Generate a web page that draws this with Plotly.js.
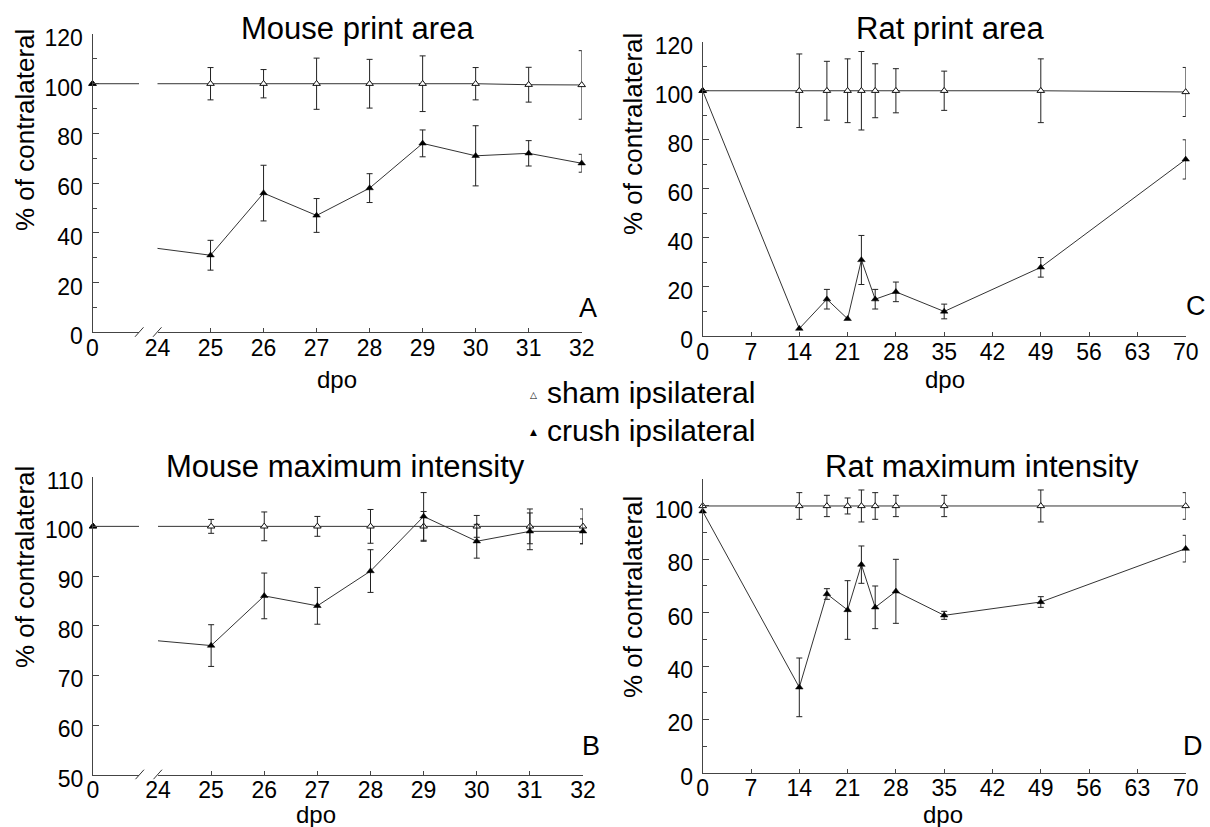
<!DOCTYPE html>
<html><head><meta charset="utf-8">
<script src="https://cdn.plot.ly/plotly-3.0.1.min.js"></script>
<style>html,body{margin:0;padding:0;background:#fff}#chart{width:1210px;height:827px}</style>
</head><body><div id="chart"></div>
<script>
// ---------------- data ----------------
const mouseDays = [0, 25, 26, 27, 28, 29, 30, 31, 32];
const mouseAreaSham = [100, 100, 100, 100, 100, 100, 100, 99.6, 99.5];
const mouseAreaShamErr = [null, 6.5, 5.7, 10.3, 9.8, 11.2, 6.5, 7, 13.8];
const mouseAreaCrush = [100, 31, 56, 47, 58, 76, 71, 72, 68];
const mouseAreaCrushErr = [null, 6, 11.2, 6.8, 5.8, 5.4, 12.1, 5.1, 3.6];

const mouseIntSham = [100, 100, 100, 100, 100, 100, 100, 100, 100];
const mouseIntShamErr = [null, 1.4, 2.9, 2, 3.4, 3, 2.2, 3.5, 3.5];
const mouseIntCrush = [100, 76, 86, 84, 91, 102, 97, 99, 99];
const mouseIntCrushErr = [null, 4.2, 4.6, 3.7, 4.3, 4.8, 3.4, 3.7, 2.5];

const ratDays = [0, 14, 18, 21, 23, 25, 28, 35, 49, 70];
const ratAreaSham = [100, 100, 100, 100, 100, 100, 100, 100, 100, 99.5];
const ratAreaShamErr = [null, 15, 12, 13, 16, 11, 9, 8, 13, 10];
const ratAreaCrush = [100, 3, 15, 7, 31, 15, 18, 10, 28, 72];
const ratAreaCrushErr = [null, null, 4, null, 10, 4, 4, 3, 4, 8];

const ratIntSham = [100, 100, 100, 100, 100, 100, 100, 100, 100, 100];
const ratIntShamErr = [null, 5, 4, 3, 6, 5, 4, 4, 6, 5];
const ratIntCrush = [98, 32, 67, 61, 78, 62, 68, 59, 64, 84];
const ratIntCrushErr = [null, 11, 2, 11, 7, 8, 12, 1.5, 2, 5];

const mouseTicks = [24, 25, 26, 27, 28, 29, 30, 31, 32];
const ratTicks = [0, 7, 14, 21, 28, 35, 42, 49, 56, 63, 70];

const panelTitles = ['Mouse print area', 'Mouse maximum intensity', 'Rat print area', 'Rat maximum intensity'];
const panelLetters = ['A', 'B', 'C', 'D'];
const yTitle = '% of contralateral';
const xTitle = 'dpo';
const seriesNames = ['sham ipsilateral', 'crush ipsilateral'];

// ---------------- helpers ----------------
const W = 1210, H = 827;
const fx = p => p / W;
const fy = p => 1 - p / H;
const FONT = 'Liberation Sans, Arial, Helvetica, sans-serif';
const LINE = '#333', ERR = '#222';
const MS = 6.6;

function errSpec(arr) {
  return {type: 'data', array: arr.map(v => v == null ? NaN : v), visible: true,
          thickness: 1, width: 3, color: ERR};
}
function shamTrace(x, y, err, xa, ya, opts = {}) {
  return Object.assign({
    type: 'scatter', x: x, y: y, xaxis: xa, yaxis: ya, mode: 'lines+markers',
    name: seriesNames[0], cliponaxis: false,
    line: {color: LINE, width: 1},
    marker: {symbol: 'triangle-up', size: MS, color: '#fff', line: {color: '#111', width: 1}},
    error_y: err ? errSpec(err) : undefined
  }, opts);
}
function crushTrace(x, y, err, xa, ya, opts = {}) {
  return Object.assign({
    type: 'scatter', x: x, y: y, xaxis: xa, yaxis: ya, mode: 'lines+markers',
    name: seriesNames[1], cliponaxis: false,
    line: {color: LINE, width: 1},
    marker: {symbol: 'triangle-up', size: MS, color: '#000', line: {color: '#000', width: 0.5}},
    error_y: err ? errSpec(err) : undefined
  }, opts);
}

const traces = [
  // Panel A (broken axis: x left piece, x2 right piece)
  shamTrace(mouseDays, mouseAreaSham, null, 'x', 'y'),
  crushTrace(mouseDays, mouseAreaCrush, null, 'x', 'y', {mode: 'markers'}),
  shamTrace(mouseDays, mouseAreaSham, mouseAreaShamErr, 'x2', 'y'),
  crushTrace(mouseDays, mouseAreaCrush, mouseAreaCrushErr, 'x2', 'y'),
  // Panel B
  shamTrace(mouseDays, mouseIntSham, null, 'x3', 'y2'),
  crushTrace(mouseDays, mouseIntCrush, null, 'x3', 'y2', {mode: 'markers'}),
  shamTrace(mouseDays, mouseIntSham, mouseIntShamErr, 'x4', 'y2'),
  crushTrace(mouseDays, mouseIntCrush, mouseIntCrushErr, 'x4', 'y2'),
  // Panel C
  shamTrace(ratDays, ratAreaSham, ratAreaShamErr, 'x5', 'y3'),
  crushTrace(ratDays, ratAreaCrush, ratAreaCrushErr, 'x5', 'y3'),
  // Panel D
  shamTrace(ratDays, ratIntSham, ratIntShamErr, 'x6', 'y4'),
  crushTrace(ratDays, ratIntCrush, ratIntCrushErr, 'x6', 'y4')
];

const tickFont = {family: FONT, size: 23, color: '#000'};
function xAxis(domain, range, anchor, tickvals, ticktext) {
  return {domain: domain, range: range, anchor: anchor, tickmode: 'array', tickvals: tickvals,
    ticktext: ticktext || tickvals.map(String),
    ticks: 'inside', ticklen: 4, tickwidth: 1, tickcolor: '#444',
    showline: true, linecolor: '#444', linewidth: 1, showgrid: false, zeroline: false,
    tickfont: tickFont, fixedrange: true, ticklabelstandoff: -5};
}
function yAxis(domain, range, anchor, dtick, minor) {
  const a = {domain: domain, range: range, anchor: anchor, tickmode: 'linear', tick0: 0, dtick: dtick,
    ticks: 'inside', ticklen: 6, tickwidth: 1, tickcolor: '#444',
    showline: true, linecolor: '#444', linewidth: 1, showgrid: false, zeroline: false,
    tickfont: tickFont, fixedrange: true, ticklabelstandoff: 4, ticklabelshift: 4};
  if (minor) a.minor = {dtick: minor, ticks: 'inside', ticklen: 4, tickwidth: 1, tickcolor: '#444', showgrid: false};
  return a;
}

const leftEnd = 139, pxPerDay = 53.0;
const layout = {
  width: W, height: H, margin: {l: 0, r: 0, t: 0, b: 0},
  paper_bgcolor: '#fff', plot_bgcolor: '#fff', showlegend: false, hovermode: false,
  font: {family: FONT, color: '#000'},
  xaxis:  xAxis([fx(92.5), fx(leftEnd)], [0, (leftEnd - 92.5) / pxPerDay], 'y', [0]),
  xaxis2: xAxis([fx(157.5), fx(581.7)], [24, 32], 'y', mouseTicks),
  yaxis:  yAxis([fy(332.3), fy(34)], [0, 120], 'x', 20, 10),
  xaxis3: xAxis([fx(93), fx(leftEnd)], [0, (leftEnd - 93) / pxPerDay], 'y2', [0]),
  xaxis4: xAxis([fx(158), fx(583)], [24, 32], 'y2', mouseTicks),
  yaxis2: yAxis([fy(774.7), fy(476.7)], [50, 110], 'x3', 10, null),
  xaxis5: xAxis([fx(702.7), fx(1185.7)], [0, 70], 'y3', ratTicks),
  yaxis3: yAxis([fy(336), fy(41.7)], [0, 120], 'x5', 20, 10),
  xaxis6: xAxis([fx(702.7), fx(1185.7)], [0, 70], 'y4', ratTicks),
  yaxis4: yAxis([fy(772.7), fy(479.3)], [0, 110], 'x6', 20, 10),
  annotations: [],
  shapes: []
};

function ann(text, px, py, size, extra = {}) {
  layout.annotations.push(Object.assign({
    text: text, xref: 'paper', yref: 'paper', x: fx(px), y: fy(py),
    xanchor: 'center', yanchor: 'middle', showarrow: false,
    font: {family: FONT, size: size, color: '#000'}
  }, extra));
}
// panel titles
ann(panelTitles[0], 357, 28, 31);
ann(panelTitles[1], 345, 466, 31);
ann(panelTitles[2], 950, 28, 31);
ann(panelTitles[3], 982, 466, 31);
// y-axis titles
ann(yTitle, 25, 130, 26, {textangle: -90});
ann(yTitle, 25, 567, 26, {textangle: -90});
ann(yTitle, 633, 134, 26, {textangle: -90});
ann(yTitle, 633, 597, 26, {textangle: -90});
// x-axis titles
ann(xTitle, 337, 379, 24);
ann(xTitle, 316, 814, 24);
ann(xTitle, 945, 379, 24);
ann(xTitle, 943, 814, 24);
// panel letters
ann(panelLetters[0], 588, 308, 27);
ann(panelLetters[1], 591, 746, 27);
ann(panelLetters[2], 1196, 306, 27);
ann(panelLetters[3], 1193, 746, 27);
// legend
ann(seriesNames[0], 545, 393, 30, {xanchor: 'left'});
ann(seriesNames[1], 545, 430, 30, {xanchor: 'left'});
ann('\u25B3', 533, 395, 9, {font: {family: 'DejaVu Sans', size: 9, color: '#000'}});
ann('\u25B2', 533, 432, 9, {font: {family: 'DejaVu Sans', size: 9, color: '#000'}});

// axis-break marks
function brk(x0, yAxisPx) {
  layout.shapes.push({type: 'line', xref: 'paper', yref: 'paper',
    x0: fx(x0), y0: fy(yAxisPx + 4.5), x1: fx(x0 + 8.5), y1: fy(yAxisPx - 5),
    line: {color: '#333', width: 1}});
}
brk(135, 332.3); brk(153, 332.3);
brk(135.5, 774.7); brk(153.5, 774.7);

Plotly.newPlot('chart', traces, layout, {displayModeBar: false, staticPlot: true});
</script>
</body></html>
